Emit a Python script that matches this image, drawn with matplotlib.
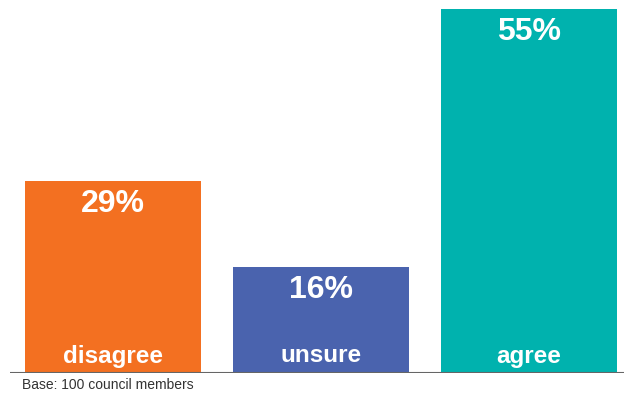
import matplotlib
matplotlib.use("Agg")
import matplotlib.pyplot as plt

categories = ["disagree", "unsure", "agree"]
values = [29, 16, 55]
colors = ["#F37021", "#4A63AE", "#00B2AE"]

W, H = 624, 393
fig = plt.figure(figsize=(W / 100, H / 100), dpi=100)
plt.rcParams["font.family"] = ["Liberation Sans", "DejaVu Sans"]

# axes in pixel terms: left 10, right 624, baseline at y=373, top (55%) at y=9
ax = fig.add_axes([10 / W, 20 / H, 614 / W, 364 / H])
x = range(len(categories))
ax.bar(x, values, width=176 / 208, color=colors, zorder=2)
ax.set_xlim(-103 / 208, 2 + 95 / 208)
ax.set_ylim(0, 55)
ax.axis("off")
ax.axhline(0, color="#666666", lw=1.5, zorder=3)

px = 55 / 364  # data units per pixel
for i, v in enumerate(values):
    ax.text(i, v - 8 * px, f"{v}%", ha="center", va="top", color="white",
            fontsize=23, fontweight="bold")
    ax.text(i, 17 * px, categories[i], ha="center", va="center", color="white",
            fontsize=17.5, fontweight="bold")

fig.text(22 / W, 1 - 385 / H, "Base: 100 council members", ha="left", va="center",
         fontsize=10, color="#333333")

fig.savefig("out.png", dpi=100)
